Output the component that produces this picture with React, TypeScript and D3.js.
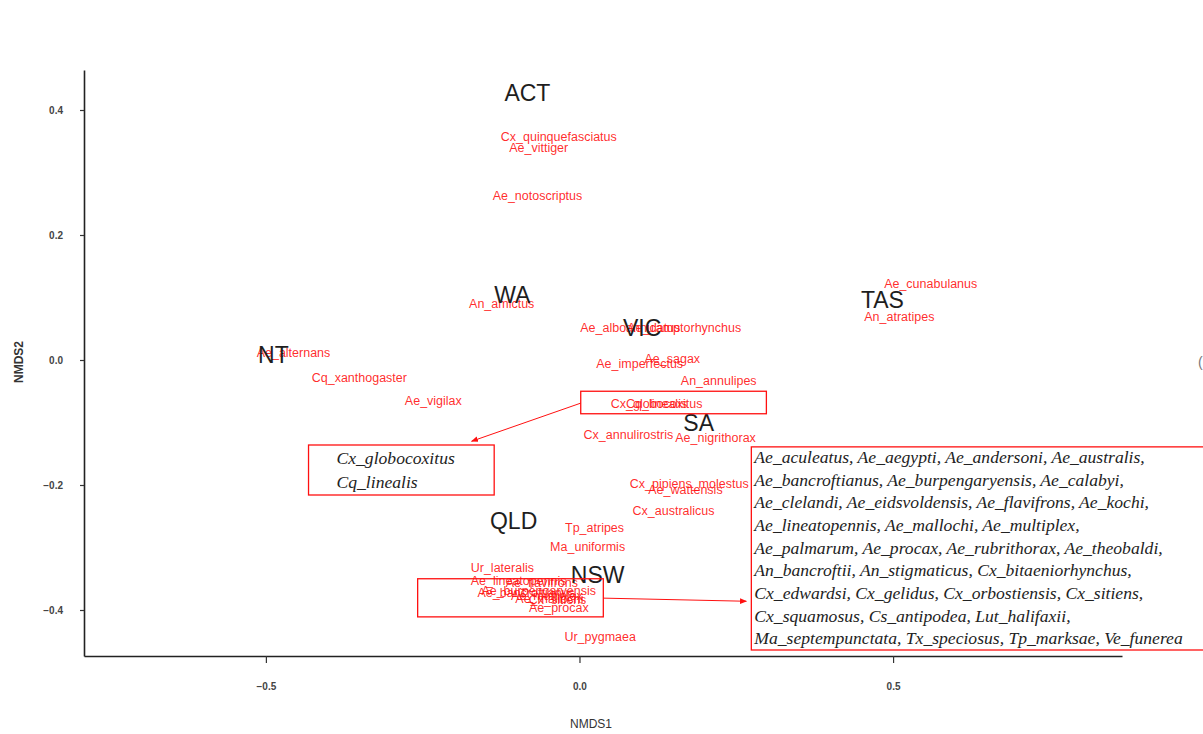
import React, { useEffect, useRef } from "react";
import * as d3 from "d3";

// species scores (NMDS1, NMDS2)
const speciesLabels = [
  "Cx_quinquefasciatus", "Ae_vittiger", "Ae_notoscriptus", "An_amictus",
  "Ae_cunabulanus", "An_atratipes", "Ae_alternans", "Cq_xanthogaster",
  "Ae_vigilax", "Ae_alboannulatus", "Ae_camptorhynchus", "Ae_imperfectus",
  "Ae_sagax", "An_annulipes", "Cx_globocoxitus", "Cq_linealis",
  "Cx_annulirostris", "Ae_nigrithorax", "Cx_pipiens_molestus", "Ae_wattensis",
  "Cx_australicus", "Tp_atripes", "Ma_uniformis", "Ur_lateralis",
  "Ae_lineatopennis", "Ae_flavifrons", "Ae_burpengaryensis", "Ae_bancroftianus",
  "Ae_mallochi", "Cx_sitiens", "Ae_multiplex", "Ae_procax", "Ur_pygmaea",
];
const speciesNMDS1 = [
  -0.033, -0.065, -0.067, -0.124,
  0.560, 0.510, -0.456, -0.351,
  -0.233, 0.081, 0.167, 0.096,
  0.148, 0.222, 0.123, 0.123,
  0.078, 0.217, 0.175, 0.169,
  0.150, 0.024, 0.013, -0.123,
  -0.097, -0.060, -0.065, -0.085,
  -0.048, -0.035, -0.052, -0.033, 0.033,
];
const speciesNMDS2 = [
  0.357, 0.339, 0.262, 0.090,
  0.122, 0.069, 0.011, -0.029,
  -0.066, 0.051, 0.051, -0.006,
  0.002, -0.034, -0.070, -0.070,
  -0.120, -0.125, -0.198, -0.208,
  -0.242, -0.269, -0.299, -0.333,
  -0.354, -0.356, -0.370, -0.372,
  -0.382, -0.384, -0.378, -0.397, -0.443,
];

// state centroids
const regionLabels = ["ACT", "WA", "VIC", "TAS", "NT", "SA", "QLD", "NSW"];
const regionNMDS1 = [-0.083, -0.107, 0.100, 0.483, -0.488, 0.190, -0.105, 0.029];
const regionNMDS2 = [0.428, 0.104, 0.052, 0.096, 0.008, -0.101, -0.258, -0.344];

const xTicks = [-0.5, 0, 0.5];
const yTicks = [-0.4, -0.2, 0, 0.2, 0.4];

// annotation boxes [x0, x1, y0, y1] and arrows [x0, y0, x1, y1] in NMDS units
const highlightBox = [0.002, 0.298, -0.05, -0.086];
const highlightArrow = [0.002, -0.069, -0.172, -0.13];
const smallNoteBox = [-0.432, -0.136, -0.136, -0.216];
const smallNoteLines = ["Cx_globocoxitus", "Cq_linealis"];
const clusterBox = [-0.258, 0.038, -0.35, -0.411];
const clusterArrow = [0.038, -0.381, 0.266, -0.386];
const bigNoteBox = [0.274, 1.05, -0.139, -0.464];
const bigNoteLines = [
  "Ae_aculeatus, Ae_aegypti, Ae_andersoni, Ae_australis,",
  "Ae_bancroftianus, Ae_burpengaryensis, Ae_calabyi,",
  "Ae_clelandi, Ae_eidsvoldensis, Ae_flavifrons, Ae_kochi,",
  "Ae_lineatopennis, Ae_mallochi, Ae_multiplex,",
  "Ae_palmarum, Ae_procax, Ae_rubrithorax, Ae_theobaldi,",
  "An_bancroftii, An_stigmaticus, Cx_bitaeniorhynchus,",
  "Cx_edwardsi, Cx_gelidus, Cx_orbostiensis, Cx_sitiens,",
  "Cx_squamosus, Cs_antipodea, Lut_halifaxii,",
  "Ma_septempunctata, Tx_speciosus, Tp_marksae, Ve_funerea",
];

const App = () => {
  const ref = useRef(null);

  useEffect(() => {
    d3.select(ref.current).selectAll("*").remove();

    const width = 1203;
    const height = 734;
    const svg = d3.select(ref.current).attr("width", width).attr("height", height);

    const x = d3.scaleLinear().domain([-0.79, 0.865]).range([84, 1122]);
    const y = d3.scaleLinear().domain([-0.4736, 0.464]).range([656, 70]);
    const red = "#ff1010";
    const sans = "Liberation Sans, Arial, sans-serif";

    svg
      .append("defs")
      .append("marker")
      .attr("id", "arrow")
      .attr("viewBox", "0 0 10 10")
      .attr("refX", 9)
      .attr("refY", 5)
      .attr("markerWidth", 7)
      .attr("markerHeight", 7)
      .attr("orient", "auto")
      .append("path")
      .attr("d", "M0,1L10,5L0,9Z")
      .attr("fill", red);

    // axes
    const yAxis = svg
      .append("g")
      .attr("transform", `translate(${x(-0.79)},0)`)
      .call(d3.axisLeft(y).tickValues(yTicks).tickSize(4).tickSizeOuter(0).tickPadding(17).tickFormat(d3.format(".1f")));
    const xAxis = svg
      .append("g")
      .attr("transform", `translate(0,${y(-0.4736)})`)
      .call(d3.axisBottom(x).tickValues(xTicks).tickSize(7).tickSizeOuter(0).tickPadding(20).tickFormat(d3.format(".1f")));
    [xAxis, yAxis].forEach((g) => {
      g.select(".domain").attr("stroke", "#222").attr("stroke-width", 1.6);
      g.selectAll(".tick line").attr("stroke", "#333").attr("stroke-width", 1.2);
      g.selectAll("text")
        .style("font-family", sans)
        .style("font-size", "10px")
        .style("font-weight", "bold")
        .attr("fill", "#444");
    });

    svg
      .append("text")
      .attr("x", 591)
      .attr("y", 728)
      .attr("text-anchor", "middle")
      .style("font-family", sans)
      .style("font-size", "12px")
      .attr("fill", "#333")
      .text("NMDS1");
    svg
      .append("text")
      .attr("transform", "translate(23,362) rotate(-90)")
      .attr("text-anchor", "middle")
      .style("font-family", sans)
      .style("font-size", "12px")
      .style("font-weight", "bold")
      .attr("fill", "#333")
      .text("NMDS2");

    // species labels
    svg
      .append("g")
      .selectAll("text")
      .data(speciesLabels)
      .enter()
      .append("text")
      .attr("x", (d, i) => x(speciesNMDS1[i]))
      .attr("y", (d, i) => y(speciesNMDS2[i]))
      .attr("text-anchor", "middle")
      .attr("dominant-baseline", "central")
      .style("font-family", sans)
      .style("font-size", "12.5px")
      .attr("fill", red)
      .attr("fill-opacity", 0.9)
      .text((d) => d);

    // region labels
    svg
      .append("g")
      .selectAll("text")
      .data(regionLabels)
      .enter()
      .append("text")
      .attr("x", (d, i) => x(regionNMDS1[i]))
      .attr("y", (d, i) => y(regionNMDS2[i]))
      .attr("text-anchor", "middle")
      .attr("dominant-baseline", "central")
      .style("font-family", sans)
      .style("font-size", "23px")
      .attr("fill", "#1e1e1e")
      .text((d) => d);

    // annotations
    const box = (b, sw) =>
      svg
        .append("rect")
        .attr("x", x(b[0]))
        .attr("y", y(b[2]))
        .attr("width", x(b[1]) - x(b[0]))
        .attr("height", y(b[3]) - y(b[2]))
        .attr("fill", "none")
        .attr("stroke", red)
        .attr("stroke-width", sw);
    const arrow = (a) =>
      svg
        .append("line")
        .attr("x1", x(a[0]))
        .attr("y1", y(a[1]))
        .attr("x2", x(a[2]))
        .attr("y2", y(a[3]))
        .attr("stroke", red)
        .attr("stroke-width", 1)
        .attr("marker-end", "url(#arrow)");

    box(highlightBox, 1.3);
    arrow(highlightArrow);
    box(clusterBox, 1.3);
    arrow(clusterArrow);
    box(smallNoteBox, 1.3);
    box(bigNoteBox, 1.3);

    const note = (b, lines, left, top, step) =>
      svg
        .append("g")
        .selectAll("text")
        .data(lines)
        .enter()
        .append("text")
        .attr("x", x(b[0]) + left)
        .attr("y", (d, i) => y(b[2]) + top + i * step)
        .attr("dominant-baseline", "central")
        .style("font-family", "Liberation Serif, Times New Roman, serif")
        .style("font-style", "italic")
        .style("font-size", "17.6px")
        .attr("fill", "#222")
        .text((d) => d);

    note(smallNoteBox, smallNoteLines, 28, 13, 24);
    note(bigNoteBox, bigNoteLines, 3, 10, 22.7);

    // clipped legend remnant at the right edge
    svg
      .append("text")
      .attr("x", 1198)
      .attr("y", 367)
      .style("font-family", sans)
      .style("font-size", "14px")
      .attr("fill", "#777")
      .text("(");
  }, []);

  return (
    <div style={{ position: "absolute", left: 0, top: 0, background: "#fff" }}>
      <svg ref={ref}></svg>
    </div>
  );
};

export default App;
